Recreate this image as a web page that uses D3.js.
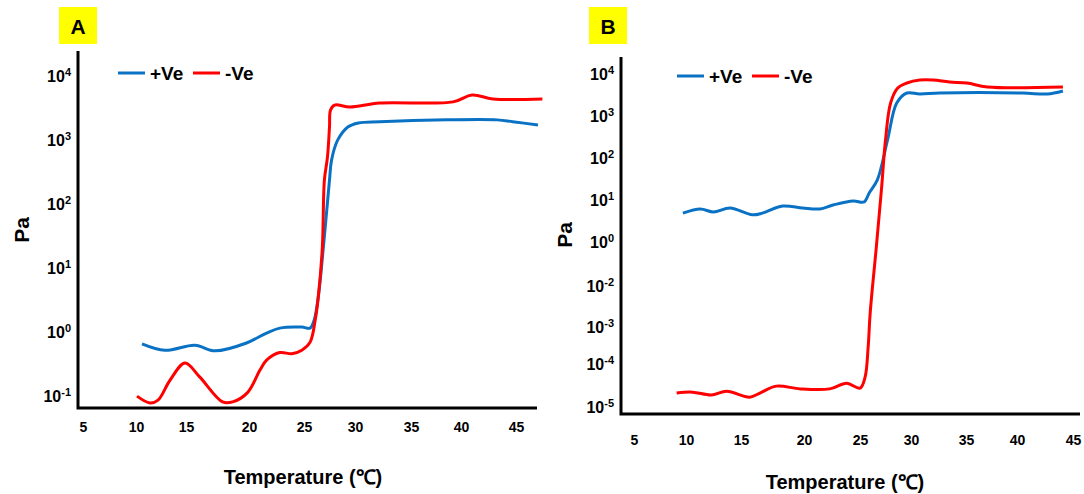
<!DOCTYPE html>
<html lang="en">
<head>
<meta charset="UTF-8">
<title>Pa vs temperature</title>
<script src="https://cdn.jsdelivr.net/npm/d3@7"></script>
<style>
  body { margin: 0; background: #fff; }
  svg text { font-family: "Liberation Sans", Arial, sans-serif; font-weight: bold; fill: #000; }
</style>
</head>
<body>
<script>
// x tick labels (°C), same for both panels
const tempTicks = [5, 10, 15, 20, 25, 30, 35, 40, 45]
// y tick exponents (10^n)
const yExpA = [4, 3, 2, 1, 0, -1]
const yExpB = [4, 3, 2, 1, 0, -2, -3, -4, -5]
const seriesNames = ["+Ve", "-Ve"]

// panel A
const aPosTemp = [10.6, 12.9, 15.7, 17.3, 19.8, 21.6, 22.8, 24.8, 25.6, 26.0, 26.4, 26.9, 27.5, 27.7, 28.3, 29.3, 30.3, 32.2, 38.6, 43.3, 44.7, 47.0]
const aPosPa   = [0.63, 0.50, 0.60, 0.49, 0.65, 0.93, 1.11, 1.15, 1.11, 1.49, 3.4, 20.5, 229, 468, 960, 1540, 1780, 1860, 1990, 1990, 1860, 1660]
const aNegTemp = [10.1, 11.4, 12.2, 13.4, 14.9, 16.1, 17.9, 18.7, 19.9, 21.0, 21.6, 22.8, 23.9, 24.8, 25.6, 26.1, 26.4, 26.8, 27.0, 27.3, 27.5, 27.6, 28.0, 29.5, 32.2, 39.2, 41.0, 42.9, 47.4]
const aNegPa   = [0.096, 0.075, 0.083, 0.17, 0.316, 0.19, 0.078, 0.078, 0.11, 0.245, 0.35, 0.46, 0.44, 0.50, 0.67, 1.49, 3.4, 20.5, 229, 520, 1540, 2830, 3390, 3160, 3650, 3800, 4870, 4220, 4220]

// panel B
const bPosTemp = [9.7, 11.3, 12.5, 14.0, 15.9, 16.7, 18.3, 19.9, 21.4, 22.6, 24.4, 25.4, 25.9, 26.7, 27.7, 28.6, 29.6, 30.8, 32.6, 40.5, 42.7, 44.1]
const bPosPa   = [4.6, 5.8, 4.9, 6.1, 4.2, 4.6, 6.8, 6.1, 5.8, 7.2, 9.0, 8.5, 13.9, 28.4, 254, 1930, 3340, 3160, 3340, 3340, 3160, 3730]
const bNegTemp = [9.1, 10.6, 12.3, 13.7, 15.7, 16.5, 17.8, 19.7, 22.3, 23.8, 25.0, 25.5, 25.8, 26.0, 26.6, 27.1, 27.5, 28.0, 28.7, 29.6, 30.8, 32.0, 33.5, 35.1, 37.1, 44.1]
const bNegPa   = [2.0e-5, 2.1e-5, 1.8e-5, 2.2e-5, 1.6e-5, 2.0e-5, 2.9e-5, 2.5e-5, 2.5e-5, 3.4e-5, 2.6e-5, 4.7e-5, 2.7e-4, 2.1e-3, 0.53, 16.4, 254, 1930, 4400, 5780, 6810, 6810, 6100, 5780, 4640, 4640]

const colors = ["#0a72c4", "#ff0000"]

const svg = d3.select("body").append("svg")
    .attr("width", 1084)
    .attr("height", 494)

function drawPanel(p) {
    const g = svg.append("g")

    const x = d3.scaleLinear().domain(tempTicks).range(p.xRange)
    const y = d3.scaleLog().domain(p.yDomainExp.map(e => Math.pow(10, e))).range(p.yRange)

    // panel letter
    g.append("rect")
        .attr("x", p.boxX).attr("y", 7)
        .attr("width", 38).attr("height", 37)
        .attr("fill", "#ffff00")
    g.append("text")
        .attr("x", p.boxX + 19).attr("y", 34)
        .attr("text-anchor", "middle")
        .style("font-size", "21px")
        .text(p.letter)

    // curves
    const line = d3.line()
        .x(d => x(d[0]))
        .y(d => y(d[1]))
        .curve(d3.curveCatmullRom.alpha(0.5))

    p.series.forEach((s, i) => {
        const pts = s[0].map((t, j) => [t, s[1][j]])
        g.append("path")
            .datum(pts)
            .attr("fill", "none")
            .attr("stroke", colors[i])
            .attr("stroke-width", 3)
            .attr("stroke-linejoin", "round")
            .attr("d", line)
    })

    // axis lines
    g.append("path")
        .attr("d", `M${p.axisX},${p.axisTop}V${p.axisY}H${p.axisRight}`)
        .attr("fill", "none")
        .attr("stroke", "#000")
        .attr("stroke-width", 3)

    // y tick labels
    const ya = g.append("g")
        .attr("transform", `translate(${p.axisX - 7},0)`)
        .call(d3.axisLeft(y).tickValues(p.yTickExp.map(e => Math.pow(10, e))).tickSize(0).tickPadding(0).tickFormat(""))
    ya.select(".domain").remove()
    ya.selectAll(".tick text").each(function(d) {
        const t = d3.select(this)
        t.attr("dy", "0.4em").style("font-size", "16px").attr("font-family", null)
        t.append("tspan").text("10")
        t.append("tspan")
            .attr("dy", "-0.55em")
            .style("font-size", "11px")
            .text(Math.round(Math.log10(d)))
    })

    // x tick labels
    const xa = g.append("g")
        .attr("transform", `translate(0,${p.xLabelY})`)
        .call(d3.axisBottom(x).tickValues(tempTicks).tickSize(0).tickPadding(0))
    xa.select(".domain").remove()
    xa.selectAll(".tick text")
        .attr("dy", "0.35em")
        .attr("font-family", null)
        .style("font-size", "14px")

    // axis titles
    g.append("text")
        .attr("x", p.titleX).attr("y", p.titleY)
        .attr("text-anchor", "middle")
        .style("font-size", "20px")
        .text("Temperature (℃)")
    g.append("text")
        .attr("transform", `translate(${p.paX},${p.paY}) rotate(-90)`)
        .attr("text-anchor", "middle")
        .style("font-size", "21px")
        .text("Pa")

    // legend
    seriesNames.forEach((name, i) => {
        const lx = p.legX + i * 75
        g.append("line")
            .attr("x1", lx).attr("x2", lx + 27)
            .attr("y1", p.legY).attr("y2", p.legY)
            .attr("stroke", colors[i])
            .attr("stroke-width", 3)
        g.append("text")
            .attr("x", lx + 32).attr("y", p.legY + 7)
            .style("font-size", "19px")
            .text(name)
    })
}

drawPanel({
    letter: "A", boxX: 59,
    xRange: [83, 136, 186, 249, 304, 355, 411, 461, 516],
    yDomainExp: [-1, 4], yRange: [395, 75], yTickExp: yExpA,
    axisX: 78, axisTop: 51, axisY: 408, axisRight: 537,
    xLabelY: 427, titleX: 303, titleY: 484, paX: 29, paY: 230,
    legX: 118, legY: 73,
    series: [[aPosTemp, aPosPa], [aNegTemp, aNegPa]]
})

drawPanel({
    letter: "B", boxX: 589,
    xRange: [634, 686, 741, 804, 860, 911, 966, 1017, 1073],
    yDomainExp: yExpB, yRange: [73, 115, 157, 199, 241, 285, 326, 363, 406], yTickExp: yExpB,
    axisX: 621, axisTop: 57, axisY: 414, axisRight: 1080,
    xLabelY: 440, titleX: 845, titleY: 489, paX: 572, paY: 235,
    legX: 677, legY: 76,
    series: [[bPosTemp, bPosPa], [bNegTemp, bNegPa]]
})
</script>
</body>
</html>
